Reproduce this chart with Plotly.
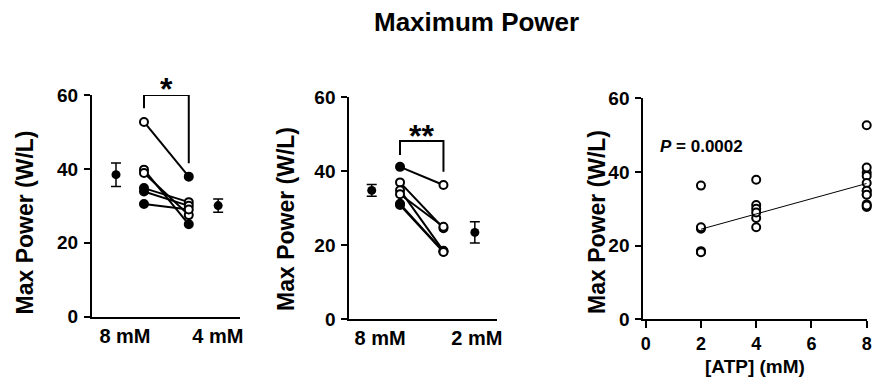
import numpy as np
import plotly.graph_objects as go

# ---------------- data ----------------
# Panel 1: 8 mM vs 4 mM (paired)
p1_labels = ["8 mM", "4 mM"]
p1_8mM = [52.7, 39.8, 38.9, 34.8, 33.9, 30.5]
p1_4mM = [37.9, 25.0, 27.5, 31.0, 30.0, 29.0]
p1_8mM_filled = [False, False, False, True, True, True]
p1_4mM_filled = [True, True, False, False, False, False]
p1_sig = "*"

# Panel 2: 8 mM vs 2 mM (paired)
p2_labels = ["8 mM", "2 mM"]
p2_8mM = [41.2, 37.0, 34.9, 33.8, 31.2, 30.9]
p2_2mM = [36.3, 24.6, 18.5, 25.0, 18.3, 18.2]
p2_8mM_filled = [True, False, False, False, True, True]
p2_2mM_filled = [False, False, False, False, False, False]
p2_sig = "**"

# Panel 3: regression of all values vs [ATP]
p3_atp = [2] * len(p2_2mM) + [4] * len(p1_4mM) + [8] * (len(p1_8mM) + len(p2_8mM))
p3_power = p2_2mM + p1_4mM + p1_8mM + p2_8mM
p3_pval = "0.0002"

title = "Maximum Power"
ytitle = "Max Power (W/L)"
xtitle3 = "[ATP] (mM)"

# ---------------- layout constants ----------------
W, H = 873, 388
FONT = "Liberation Sans, Arial, sans-serif"
BLACK = "#000000"

def px_x(p):
    return p / W

def px_y(p):
    return 1 - p / H

# x positions (axis units) for mean / paired columns
P1_POS = [0.0, 1.0, 2.6, 3.65]
P2_POS = [0.0, 1.01, 2.56, 3.68]

fig = go.Figure()


def paired_panel(xa, ya, pos, before, after, bfill, afill):
    for b, a in zip(before, after):
        fig.add_trace(go.Scatter(
            x=[pos[1], pos[2]], y=[b, a], mode="lines",
            line=dict(color=BLACK, width=2), xaxis=xa, yaxis=ya,
            showlegend=False, hoverinfo="skip"))
    xs = [pos[1]] * len(before) + [pos[2]] * len(after)
    ys = list(before) + list(after)
    fills = list(bfill) + list(afill)
    fig.add_trace(go.Scatter(
        x=xs, y=ys, mode="markers", xaxis=xa, yaxis=ya,
        marker=dict(size=8, color=[BLACK if f else "white" for f in fills],
                    line=dict(color=BLACK, width=2)),
        showlegend=False, cliponaxis=False))
    means = [np.mean(before), np.mean(after)]
    sems = [np.std(before, ddof=1) / np.sqrt(len(before)),
            np.std(after, ddof=1) / np.sqrt(len(after))]
    fig.add_trace(go.Scatter(
        x=[pos[0], pos[3]], y=means, mode="markers", xaxis=xa, yaxis=ya,
        marker=dict(size=9, color=BLACK),
        error_y=dict(type="data", array=sems, color=BLACK, thickness=1.5, width=5),
        showlegend=False, cliponaxis=False))


paired_panel("x", "y", P1_POS, p1_8mM, p1_4mM, p1_8mM_filled, p1_4mM_filled)
paired_panel("x2", "y2", P2_POS, p2_8mM, p2_2mM, p2_8mM_filled, p2_2mM_filled)

# Panel 3 scatter + regression
fig.add_trace(go.Scatter(
    x=p3_atp, y=p3_power, mode="markers", xaxis="x3", yaxis="y3",
    marker=dict(size=8, color="white", line=dict(color=BLACK, width=2)),
    showlegend=False, cliponaxis=False))
slope, intercept = np.polyfit(p3_atp, p3_power, 1)
xfit = np.array([min(p3_atp), max(p3_atp)])
fig.add_trace(go.Scatter(
    x=xfit, y=slope * xfit + intercept, mode="lines", xaxis="x3", yaxis="y3",
    line=dict(color=BLACK, width=1), showlegend=False, hoverinfo="skip",
    cliponaxis=False))

# ---------------- axes ----------------
tickfont = dict(family=FONT, size=19, color=BLACK, weight="bold")
yax_common = dict(range=[0, 60], tickvals=[0, 20, 40, 60], showgrid=False, zeroline=False,
                  showline=True, linecolor=BLACK, linewidth=2, ticks="outside",
                  ticklen=6, tickwidth=2, tickcolor=BLACK, tickfont=tickfont,
                  ticklabelstandoff=2, automargin=False)

xcat_common = dict(showgrid=False, zeroline=False, showline=True, linecolor=BLACK,
                   linewidth=2, ticks="", automargin=False,
                   tickfont=dict(family=FONT, size=20, color=BLACK, weight="bold"))

fig.update_layout(
    width=W, height=H,
    margin=dict(l=0, r=0, t=0, b=0, pad=0, autoexpand=False),
    paper_bgcolor="white", plot_bgcolor="white",
    xaxis=dict(domain=[px_x(92), px_x(240)], range=[-0.857, 4.43],
               tickvals=[0.32, 3.64], ticktext=p1_labels, anchor="y", **xcat_common),
    yaxis=dict(domain=[px_y(316.7), px_y(95)], anchor="x", **yax_common),
    xaxis2=dict(domain=[px_x(349.3), px_x(496.7)], range=[-0.8, 4.46],
                tickvals=[0.3, 3.75], ticktext=p2_labels, anchor="y2", **xcat_common),
    yaxis2=dict(domain=[px_y(319.3), px_y(97.3)], anchor="x2", **yax_common),
    xaxis3=dict(domain=[px_x(643.3), px_x(866.7)], range=[-0.087, 8],
                tickvals=[0, 2, 4, 6, 8], showgrid=False, zeroline=False, showline=True,
                linecolor=BLACK, linewidth=2, ticks="outside", ticklen=7, tickwidth=2,
                tickcolor=BLACK, tickfont=dict(family=FONT, size=18, color=BLACK, weight="bold"),
                ticklabelstandoff=0, anchor="y3", automargin=False),
    yaxis3=dict(domain=[px_y(319.3), px_y(98.3)], anchor="x3", **yax_common),
)

# ---------------- significance brackets ----------------
def bracket(xa, ya, x0, x1, ytop, yl, yr):
    fig.add_shape(type="path", xref=xa, yref=ya,
                  path=f"M {x0},{yl} L {x0},{ytop} L {x1},{ytop} L {x1},{yr}",
                  line=dict(color=BLACK, width=2))

bracket("x", "y", P1_POS[1], P1_POS[2], 60, 56.4, 41.5)
bracket("x2", "y2", P2_POS[1], P2_POS[2], 48.2, 44.4, 39.9)

star_font = dict(family=FONT, size=32, color=BLACK, weight="bold")
fig.add_annotation(x=(P1_POS[1] + P1_POS[2]) / 2, y=px_y(80), xref="x", yref="paper",
                   text=p1_sig, showarrow=False, font=star_font, yanchor="middle", yshift=-9)
fig.add_annotation(x=(P2_POS[1] + P2_POS[2]) / 2, y=px_y(126.7), xref="x2", yref="paper",
                   text=p2_sig, showarrow=False, font=star_font, yanchor="middle", yshift=-9)

# P value
fig.add_annotation(x=0.45, y=46.9, xref="x3", yref="y3", xanchor="left", yanchor="middle",
                   text=f"<i>P</i> = {p3_pval}", showarrow=False,
                   font=dict(family=FONT, size=17, color=BLACK, weight="bold"))

# ---------------- titles ----------------
fig.add_annotation(x=px_x(477), y=px_y(22), xref="paper", yref="paper",
                   text=title, showarrow=False, xanchor="center", yanchor="middle",
                   font=dict(family=FONT, size=26, color=BLACK, weight="bold"))
for cx, cy in [(25, 222.5), (286, 219), (597, 222)]:
    fig.add_annotation(x=px_x(cx), y=px_y(cy), xref="paper", yref="paper",
                       text=ytitle, textangle=-90, showarrow=False,
                       xanchor="center", yanchor="middle",
                       font=dict(family=FONT, size=23, color=BLACK, weight="bold"))
fig.add_annotation(x=px_x(755), y=px_y(366), xref="paper", yref="paper",
                   text=xtitle3, showarrow=False, xanchor="center", yanchor="middle",
                   font=dict(family=FONT, size=19, color=BLACK, weight="bold"))

fig.write_html("out.html", config={"displayModeBar": False},
               post_script="document.body.style.margin='0';document.body.style.overflow='hidden';")
